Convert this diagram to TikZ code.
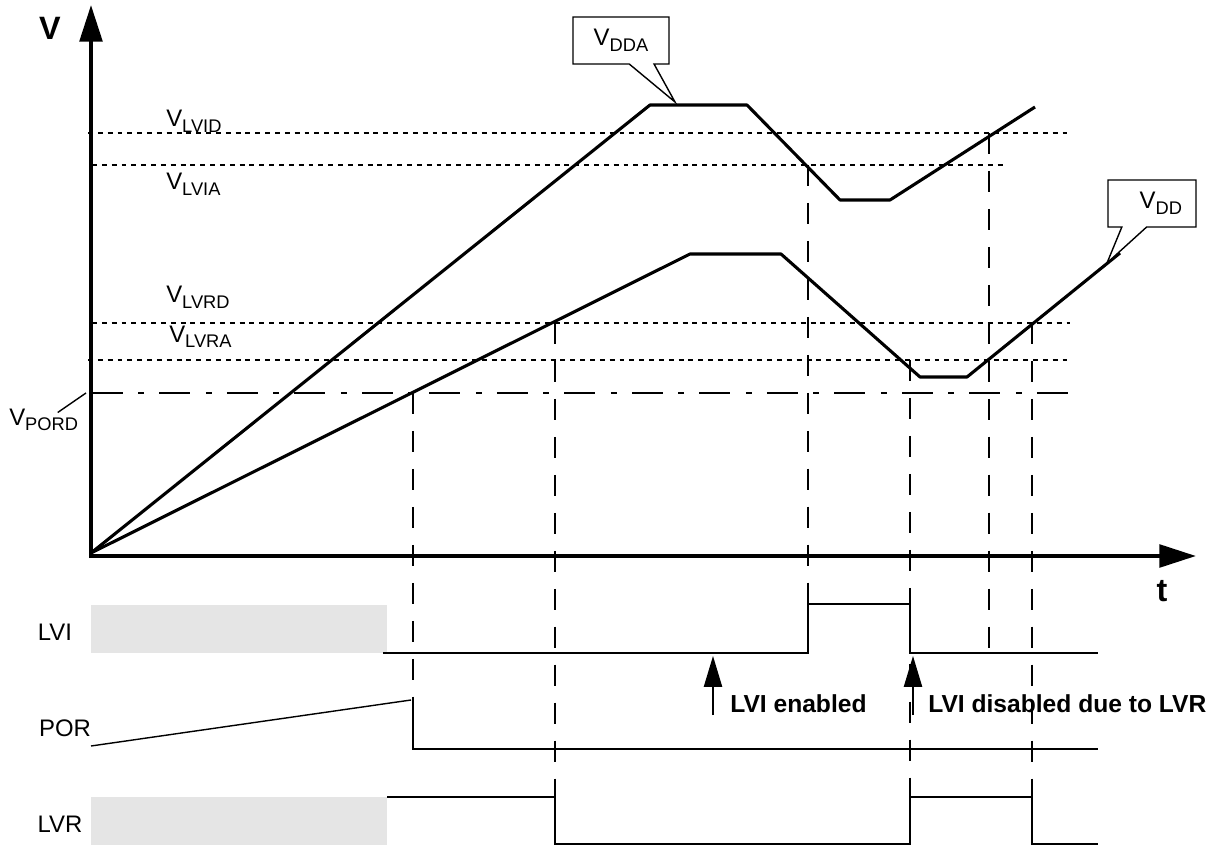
\documentclass[tikz,border=0pt]{standalone}
\usepackage{fontspec}
\setmainfont{Liberation Sans}
\usetikzlibrary{arrows.meta,shapes.callouts,positioning}

\newcommand{\vsub}[2]{#1\raisebox{-0.45ex}{\fontsize{13}{14}\selectfont #2}}

\begin{document}
\begin{tikzpicture}[x=0.025cm,y=-0.025cm,
  lbl/.style={font=\fontsize{17}{19}\selectfont,inner sep=0pt},
  note/.style={font=\fontsize{17.5}{20}\selectfont\bfseries,inner sep=0pt,anchor=west},
  axis/.style={line width=2.8pt,-{Triangle[length=26pt,width=16pt]}},
  curve/.style={line width=2.2pt,line join=round},
  sig/.style={line width=1.8pt},
  level/.style={line width=1.5pt,dash pattern=on 3.5pt off 3.5pt},
  pord/.style={line width=1.5pt,dash pattern=on 22pt off 11pt on 4pt off 11pt},
  guide/.style={line width=1.8pt,dash pattern=on 15pt off 12pt},
  mask/.style={fill=black!10,draw=none},
  bubble/.style={rectangle callout,draw,line width=1pt,fill=white,
    minimum height=1.175cm,callout pointer width=0.62cm,
    font=\fontsize{17}{19}\selectfont,inner sep=0pt},
  up/.style={line width=1pt,-{Triangle[length=22pt,width=13pt]}}]

  \useasboundingbox (0,0) rectangle (1210,846);

  % axes
  \coordinate (O) at (91,553);
  \draw[axis] (91,558) -- (91,5);
  \draw[axis] (89,556) -- (1196,556);
  \node[font=\fontsize{23}{26}\selectfont\bfseries] (vax) at (50,28) {V};
  \node[font=\fontsize{23}{26}\selectfont\bfseries] (tax) at (1162,591) {t};

  % threshold levels
  \draw[level] (88,133) -- (1070,133);
  \draw[level] (92,165) -- (1005,165);
  \draw[level] (92,323) -- (1070,323);
  \draw[level] (88,360) -- (1070,360);
  \draw[pord] (92,393) -- (1070,393);

  \node[lbl,anchor=base west] (lvid) at (166,127) {\vsub{V}{LVID}};
  \node[lbl,anchor=base west] (lvia) at (166,190) {\vsub{V}{LVIA}};
  \node[lbl,anchor=base west] (lvrd) at (166,303) {\vsub{V}{LVRD}};
  \node[lbl,anchor=base west] (lvra) at (169,342) {\vsub{V}{LVRA}};
  \node[lbl,anchor=base west] (vpord) at (9,425) {\vsub{V}{PORD}};
  \coordinate (pordtip) at (86,393);
  \draw[line width=1pt] ([xshift=10pt,yshift=-3pt]vpord.north) -- (pordtip);

  % supplies
  \draw[curve] (O) -- (650,105) -- (747,105) -- (840,200) -- (890,200) -- (1035,107);
  \draw[curve] (O) -- (690,254) -- (781,254) -- (920,377) -- (967,377) -- (1120,253);

  \node[bubble,minimum width=2.4cm,callout absolute pointer={(675,102)}] (vdda) at (621,40.5) {\vsub{V}{DDA}};
  \node[bubble,minimum width=2.2cm,text width=1.5cm,align=right,callout absolute pointer={(1107,263)}] (vdd) at (1152,203.5) {\vsub{V}{DD}};

  % crossings
  \draw[guide] (413,393) -- (413,700);
  \draw[guide] (555,323) -- (555,797);
  \draw[guide] (808,165) -- (808,604);
  \draw[guide] (910,360) -- (910,797);
  \draw[guide] (989,133) -- (989,653);
  \draw[guide] (1032,323) -- (1032,797);

  % signals
  \fill[mask] (91,605) rectangle (387,653);
  \fill[mask] (91,797) rectangle (387,845);
  \draw[sig] (383,653) -- (808,653) -- (808,604) -- (910,604) -- (910,653) -- (1098,653);
  \draw[sig] (413,700) -- (413,749) -- (1098,749);
  \draw[sig] (387,797) -- (555,797) -- (555,844) -- (910,844) -- (910,797) -- (1032,797) -- (1032,844) -- (1098,844);

  \node[lbl] (lvi) at (55,632) {LVI};
  \node[lbl] (por) at (65,728) {POR};
  \node[lbl] (lvr) at (60,824) {LVR};
  \coordinate (porfoot) at (91,746);
  \coordinate (porrise) at (411,700);
  \draw[line width=1pt] (porfoot) -- (porrise);

  \node[note] (en) at (730,704) {LVI enabled};
  \node[note] (dis) at (928,704) {LVI disabled due to LVR};
  \draw[up] (713,715) -- (713,656);
  \draw[up] (913,715) -- (913,656);
\end{tikzpicture}
\end{document}
